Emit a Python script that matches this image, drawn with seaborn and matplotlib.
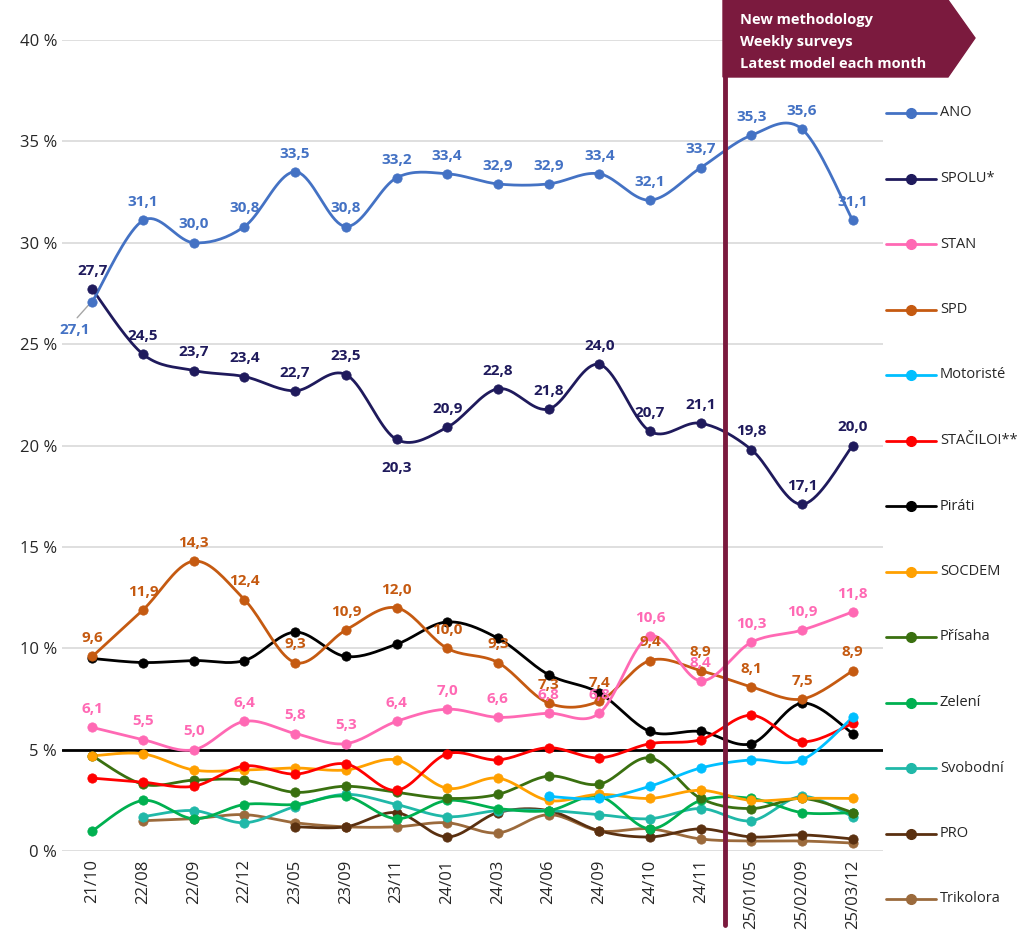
import matplotlib
matplotlib.use('Agg')
import matplotlib.pyplot as plt
from matplotlib.lines import Line2D
from matplotlib.patches import Polygon
import numpy as np
import pandas as pd
import seaborn as sns

dates = ['21/10', '22/08', '22/09', '22/12', '23/05', '23/09', '23/11', '24/01', '24/03',
         '24/06', '24/09', '24/10', '24/11', '25/01/05', '25/02/09', '25/03/12']
ano = [27.1, 31.1, 30.0, 30.8, 33.5, 30.8, 33.2, 33.4, 32.9, 32.9, 33.4, 32.1, 33.7, 35.3, 35.6, 31.1]
spolu = [27.7, 24.5, 23.7, 23.4, 22.7, 23.5, 20.3, 20.9, 22.8, 21.8, 24.0, 20.7, 21.1, 19.8, 17.1, 20.0]
stan = [6.1, 5.5, 5.0, 6.4, 5.8, 5.3, 6.4, 7.0, 6.6, 6.8, 6.8, 10.6, 8.4, 10.3, 10.9, 11.8]
spd = [9.6, 11.9, 14.3, 12.4, 9.3, 10.9, 12.0, 10.0, 9.3, 7.3, 7.4, 9.4, 8.9, 8.1, 7.5, 8.9]
motoriste = [None] * 9 + [2.7, 2.6, 3.2, 4.1, 4.5, 4.5, 6.6]
stacilo = [3.6, 3.4, 3.2, 4.2, 3.8, 4.3, 3.0, 4.8, 4.5, 5.1, 4.6, 5.3, 5.5, 6.7, 5.4, 6.3]
pirati = [9.5, 9.3, 9.4, 9.4, 10.8, 9.6, 10.2, 11.3, 10.5, 8.7, 7.8, 5.9, 5.9, 5.3, 7.3, 5.8]
socdem = [4.7, 4.8, 4.0, 4.0, 4.1, 4.0, 4.5, 3.1, 3.6, 2.5, 2.8, 2.6, 3.0, 2.5, 2.6, 2.6]
prisaha = [4.7, 3.3, 3.5, 3.5, 2.9, 3.2, 2.9, 2.6, 2.8, 3.7, 3.3, 4.6, 2.6, 2.1, 2.6, 1.9]
zeleni = [1.0, 2.5, 1.6, 2.3, 2.3, 2.7, 1.6, 2.5, 2.1, 2.0, 2.7, 1.1, 2.5, 2.6, 1.9, 1.9]
svobodni = [None, 1.7, 2.0, 1.4, 2.2, 2.8, 2.3, 1.7, 2.0, 2.0, 1.8, 1.6, 2.1, 1.5, 2.7, 1.7]
pro = [None] * 4 + [1.2, 1.2, 1.9, 0.7, 1.9, 2.0, 1.0, 0.7, 1.1, 0.7, 0.8, 0.6]
trikolora = [None, 1.5, 1.6, 1.8, 1.4, 1.2, 1.2, 1.4, 0.9, 1.8, 1.0, 1.1, 0.6, 0.5, 0.5, 0.4]

series = [
    ('ANO', ano, '#4472C4'),
    ('SPOLU*', spolu, '#1F1A5C'),
    ('STAN', stan, '#FF69B4'),
    ('SPD', spd, '#C55A11'),
    ('Motoristé', motoriste, '#00BFFF'),
    ('STAČILO!**', stacilo, '#FF0000'),
    ('Piráti', pirati, '#000000'),
    ('SOCDEM', socdem, '#FFA000'),
    ('Přísaha', prisaha, '#3A7010'),
    ('Zelení', zeleni, '#00B050'),
    ('Svobodní', svobodni, '#20B8A8'),
    ('PRO', pro, '#5A3010'),
    ('Trikolora', trikolora, '#9B6A3C'),
]
labelled = {'ANO', 'SPOLU*', 'STAN', 'SPD'}


def smooth(x, y, n=20):
    # catmull-rom like excel smoothed lines
    x = np.asarray(x, float); y = np.asarray(y, float)
    xs, ys = [], []
    for i in range(len(x) - 1):
        p0 = np.array([x[max(i - 1, 0)], y[max(i - 1, 0)]])
        p1 = np.array([x[i], y[i]]); p2 = np.array([x[i + 1], y[i + 1]])
        p3 = np.array([x[min(i + 2, len(x) - 1)], y[min(i + 2, len(x) - 1)]])
        t = np.linspace(0, 1, n)[:, None]
        pts = 0.5 * ((2 * p1) + (-p0 + p2) * t + (2 * p0 - 5 * p1 + 4 * p2 - p3) * t ** 2
                     + (-p0 + 3 * p1 - 3 * p2 + p3) * t ** 3)
        xs.extend(pts[:, 0]); ys.extend(pts[:, 1])
    return xs, ys


sns.set_style('white')
plt.rcParams['font.family'] = ['Open Sans', 'DejaVu Sans']
fig = plt.figure(figsize=(10.24, 9.51), dpi=100)
ax = fig.add_axes([0.0605, 0.105, 0.802, 0.853])

for y in range(0, 45, 5):
    ax.axhline(y, color='#D9D9D9', lw=1.2, zorder=0)
ax.axhline(5, color='black', lw=2, zorder=1)

df_all = []
for name, vals, col in reversed(series):
    df = pd.DataFrame({'x': np.arange(len(dates)), 'v': vals}).dropna()
    sx, sy = smooth(df['x'], df['v'])
    ax.plot(sx, sy, color=col, lw=2, zorder=2)
    sns.scatterplot(x=df['x'], y=df['v'], color=col, s=45, edgecolor=col, ax=ax, zorder=3)

for name, vals, col in series:
    if name not in labelled:
        continue
    for i, v in enumerate(vals):
        txt = f'{v:.1f}'.replace('.', ',')
        dy = 0.9
        if (name == 'ANO' and i == 0) or (name == 'SPOLU*' and i == 6):
            dy = -1.4
        if name == 'ANO' and i == 0:
            ax.text(i - 0.35, v + dy, txt, color=col, fontsize=11, fontweight='bold', ha='center', va='center')
            ax.plot([i - 0.3, i - 0.05], [v - 0.8, v - 0.1], color='#A6A6A6', lw=1)
            continue
        ax.text(i, v + dy, txt, color=col, fontsize=11, fontweight='bold', ha='center', va='center')

ax.set_xlim(-0.6, 15.6)
ax.set_ylim(0, 40)
ax.set_xticks(range(len(dates)))
ax.set_xticklabels(dates, rotation=90, fontsize=12)
ax.set_yticks(range(0, 45, 5))
ax.set_yticklabels([f'{y} %' for y in range(0, 45, 5)], fontsize=12)
ax.tick_params(axis='x', length=0, pad=6)
ax.tick_params(axis='y', length=0)
sns.despine(ax=ax, left=True, bottom=True, top=True, right=True)
ax.set_xlabel(''); ax.set_ylabel('')

maroon = '#7B1A3E'
fig.add_artist(Line2D([725 / 1024, 725 / 1024], [1, 1 - 925 / 951], color=maroon, lw=3.5,
                      transform=fig.transFigure))
fig.add_artist(Polygon([[723 / 1024, 1], [948 / 1024, 1], [975 / 1024, 1 - 38 / 951],
                        [948 / 1024, 1 - 77 / 951], [723 / 1024, 1 - 77 / 951]],
                       closed=True, color=maroon, transform=fig.transFigure))
for k, t in enumerate(['New methodology', 'Weekly surveys', 'Latest model each month']):
    fig.text(740 / 1024, 1 - (20 + k * 22) / 951, t, color='white', fontsize=10.5,
             fontweight='bold', va='center')

for k, (name, vals, col) in enumerate(series):
    yy = 1 - (113 + k * 65.5) / 951
    fig.add_artist(Line2D([886 / 1024, 936 / 1024], [yy, yy], color=col, lw=2,
                          transform=fig.transFigure))
    fig.add_artist(Line2D([911 / 1024], [yy], color=col, marker='o', markersize=7,
                          transform=fig.transFigure))
    fig.text(940 / 1024, yy, name, fontsize=10.5, va='center')

fig.savefig('out.png', dpi=100)
